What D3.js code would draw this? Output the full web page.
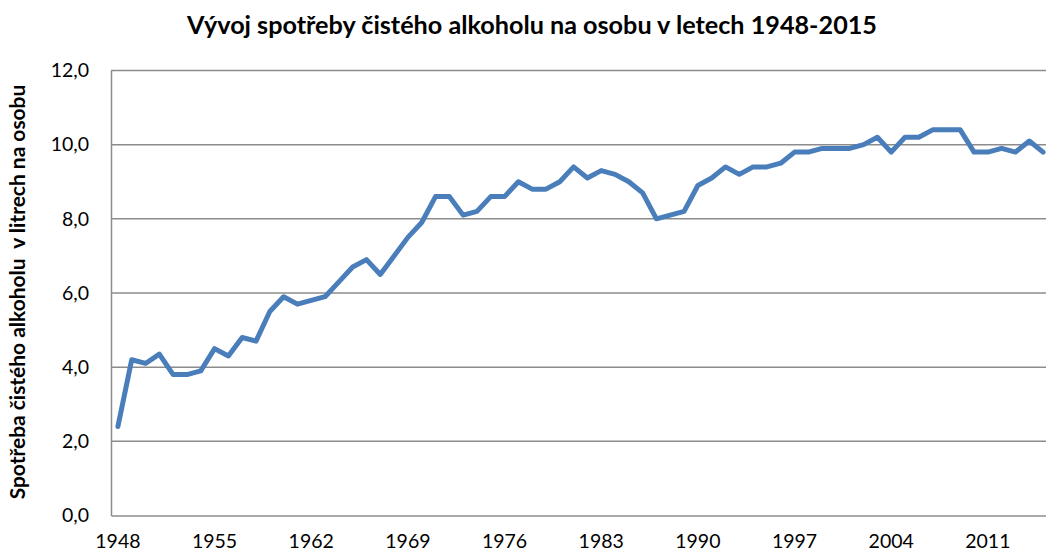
<!DOCTYPE html>
<html><head><meta charset="utf-8">
<script src="https://cdn.jsdelivr.net/npm/d3@7"></script>
<style>
html,body{margin:0;padding:0;background:#fff;overflow:hidden}
svg{display:block}
text{font-family:Lato,"Open Sans",sans-serif;fill:#000}
</style></head>
<body>
<svg id="chart" width="1046" height="554"></svg>
<script>
const title = "Vývoj spotřeby čistého alkoholu na osobu v letech 1948-2015";
const yAxisTitle = "Spotřeba čistého alkoholu  v litrech na osobu";
const years = d3.range(1948, 2016);
const consumption = [
  2.4, 4.2, 4.1, 4.35, 3.8, 3.8, 3.9, 4.5, 4.3, 4.8,
  4.7, 5.5, 5.9, 5.7, 5.8, 5.9, 6.3, 6.7, 6.9, 6.5,
  7.0, 7.5, 7.9, 8.6, 8.6, 8.1, 8.2, 8.6, 8.6, 9.0,
  8.8, 8.8, 9.0, 9.4, 9.1, 9.3, 9.2, 9.0, 8.7, 8.0,
  8.1, 8.2, 8.9, 9.1, 9.4, 9.2, 9.4, 9.4, 9.5, 9.8,
  9.8, 9.9, 9.9, 9.9, 10.0, 10.2, 9.8, 10.2, 10.2, 10.4,
  10.4, 10.4, 9.8, 9.8, 9.9, 9.8, 10.1, 9.8
];
const xTickLabels = [1948, 1955, 1962, 1969, 1976, 1983, 1990, 1997, 2004, 2011];
const yTickValues = [0, 2, 4, 6, 8, 10, 12];

const svg = d3.select("#chart");
const mLeft = 111, mRight = 1050, mTop = 70.5, mBottom = 515.5;

const x = d3.scaleBand().domain(years).range([mLeft, mRight]).padding(0);
const xc = d => x(d) + x.bandwidth() / 2;
const y = d3.scaleLinear().domain([0, 12]).range([mBottom, mTop]);
const fmt = v => d3.format(".1f")(v).replace(".", ",");

// gridlines
svg.append("g").selectAll("line").data(yTickValues.filter(v => v > 0)).join("line")
  .attr("x1", mLeft).attr("x2", mRight)
  .attr("y1", d => y(d)).attr("y2", d => y(d))
  .attr("stroke", "#8c8c8c").attr("stroke-width", 1.5);

// y axis
const yAxis = svg.append("g").attr("transform", `translate(${mLeft},0)`)
  .call(d3.axisLeft(y).tickValues(yTickValues).tickFormat(fmt).tickSize(0).tickPadding(22));
yAxis.select(".domain").attr("stroke", "#8c8c8c").attr("stroke-width", 1.5);
yAxis.selectAll("text").attr("font-size", 19.5).attr("fill", "#000")
  .attr("font-family", "Lato, 'Open Sans', sans-serif");

// x axis
const xAxis = svg.append("g").attr("transform", `translate(0,${mBottom})`)
  .call(d3.axisBottom(x).tickValues(xTickLabels).tickSize(0).tickPadding(19));
xAxis.select(".domain").attr("stroke", "#8c8c8c").attr("stroke-width", 1.5);
xAxis.selectAll("text").attr("font-size", 19.5).attr("fill", "#000")
  .attr("font-family", "Lato, 'Open Sans', sans-serif");

// line
const line = d3.line().x((d, i) => xc(years[i])).y(d => y(d));
svg.append("path").datum(consumption)
  .attr("d", line).attr("fill", "none")
  .attr("stroke", "#4a7ebb").attr("stroke-width", 5)
  .attr("stroke-linejoin", "round").attr("stroke-linecap", "round");

// title
const t = svg.append("text").attr("x", 532).attr("y", 34)
  .attr("text-anchor", "middle").attr("font-weight", "bold").attr("font-size", 22)
  .text(title);
const tw = t.node().getComputedTextLength();
t.attr("font-size", 22 * 690 / tw);

// y-axis title
const yt = svg.append("text")
  .attr("transform", "translate(25,292) rotate(-90)")
  .attr("text-anchor", "middle").attr("font-weight", "bold").attr("font-size", 16)
  .style("white-space", "pre")
  .text(yAxisTitle);
const yw = yt.node().getComputedTextLength();
yt.attr("font-size", 16 * 415 / yw);
</script>
</body></html>
